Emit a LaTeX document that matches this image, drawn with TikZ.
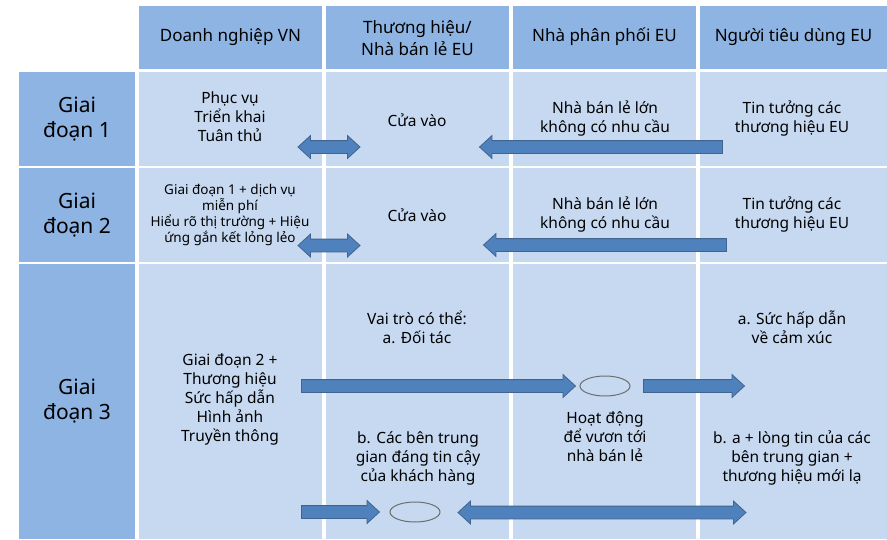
\documentclass[tikz,border=0pt]{standalone}
\usepackage{fontspec}
\setmainfont{Noto Sans}
\usetikzlibrary{shapes.arrows,shapes.geometric}
\definecolor{hdrblue}{HTML}{8EB4E3}
\definecolor{cellblue}{HTML}{C6D9F1}
\definecolor{arrowfill}{HTML}{4F81BD}
\definecolor{arrowline}{HTML}{41648F}
\definecolor{ringgrey}{HTML}{6E6E6E}

\begin{document}
\begin{tikzpicture}[x=1pt,y=-1pt,
  hdr/.style={fill=hdrblue},
  cell/.style={fill=cellblue},
  headtxt/.style={align=center, font=\fontsize{17}{21.5}\selectfont},
  stagetxt/.style={align=center, font=\fontsize{21}{25}\selectfont},
  body/.style={align=center, font=\fontsize{15.5}{19}\selectfont},
  small/.style={align=center, font=\fontsize{13.5}{16}\selectfont},
  blockbase/.style={fill=arrowfill, draw=arrowline, line width=0.8pt,
    inner xsep=0pt, inner ysep=6pt, text height=0pt, text depth=0pt},
  rblock/.style={blockbase, single arrow, single arrow head extend=5pt,
    single arrow tip angle=85, minimum height=#1},
  lblock/.style={rblock=#1, shape border rotate=180},
  dblock/.style={blockbase, double arrow, double arrow head extend=5pt,
    double arrow tip angle=85, minimum height=#1},
  ring/.style={ellipse, draw=ringgrey, line width=1pt, minimum width=50pt,
    minimum height=20pt, inner sep=0pt}
]
\fill[white] (0,0) rectangle (887,539);
\useasboundingbox (0,0) rectangle (887,539);

% column headers
\fill[hdr] (139,6) rectangle (322,69);
\fill[hdr] (326,6) rectangle (509,69);
\fill[hdr] (513,6) rectangle (696,69);
\fill[hdr] (700,6) rectangle (887,69);

% stage labels
\fill[hdr] (19,72) rectangle (135,165.5);
\fill[hdr] (19,168) rectangle (135,261.5);
\fill[hdr] (19,264) rectangle (135,539);

% body cells
\foreach \ya/\yb in {72/165.5, 168/261.5, 264/539} {
  \fill[cell] (139,\ya) rectangle (322,\yb);
  \fill[cell] (326,\ya) rectangle (509,\yb);
  \fill[cell] (513,\ya) rectangle (696,\yb);
  \fill[cell] (700,\ya) rectangle (887,\yb);
}

% header texts
\node[headtxt] (h1) at (230.5,37) {Doanh nghiệp VN};
\node[headtxt] (h2) at (417.5,38) {Thương hiệu/\\Nhà bán lẻ EU};
\node[headtxt] (h3) at (604.5,37) {Nhà phân phối EU};
\node[headtxt] (h4) at (793.5,37) {Người tiêu dùng EU};

\node[stagetxt] (s1) at (77,119) {Giai\\đoạn 1};
\node[stagetxt] (s2) at (77,215) {Giai\\đoạn 2};
\node[stagetxt] (s3) at (77,401.5) {Giai\\đoạn 3};

% stage 1
\node[body] (a1) at (230,117) {Phục vụ\\Triển khai\\Tuân thủ};
\node[body] (b1) at (417,120) {Cửa vào};
\node[body] (c1) at (605,118) {Nhà bán lẻ lớn\\không có nhu cầu};
\node[body] (e1) at (792,118) {Tin tưởng các\\thương hiệu EU};

% stage 2
\node[small] (a2) at (230,215) {Giai đoạn 1 + dịch vụ\\miễn phí\\Hiểu rõ thị trường + Hiệu\\ứng gắn kết lỏng lẻo};
\node[body] (b2) at (417,215) {Cửa vào};
\node[body] (c2) at (605,214) {Nhà bán lẻ lớn\\không có nhu cầu};
\node[body] (e2) at (792,214) {Tin tưởng các\\thương hiệu EU};

% stage 3
\node[body] (a3) at (230,399) {Giai đoạn 2 +\\Thương hiệu\\Sức hấp dẫn\\Hình ảnh\\Truyền thông};
\node[body] (b3) at (417,327) {Vai trò có thể:\\a. Đối tác};
\node[body] (b4) at (418,458) {b. Các bên trung\\gian đáng tin cậy\\của khách hàng};
\node[body] (c3) at (605,437) {Hoạt động\\để vươn tới\\nhà bán lẻ};
\node[body] (e3) at (792,327) {a. Sức hấp dẫn\\về cảm xúc};
\node[body] (e4) at (792,458) {b. a + lòng tin của các\\bên trung gian +\\thương hiệu mới lạ};

% block arrows and activity rings
\node[dblock=62] (d1) at (329,147) {};
\node[dblock=62] (d2) at (329,245.5) {};
\node[lblock=243] (l1) at (604.5,147) {};
\node[lblock=243] (l2) at (608.5,245) {};
\node[rblock=274] (r1) at (435,386) {};
\node[ring] (o1) at (605,386) {};
\node[rblock=101] (r2) at (690.5,386) {};
\node[rblock=78] (r3) at (337,512) {};
\node[ring] (o2) at (415,512) {};
\node[dblock=288] (d3) at (602,512.5) {};
\end{tikzpicture}
\end{document}
